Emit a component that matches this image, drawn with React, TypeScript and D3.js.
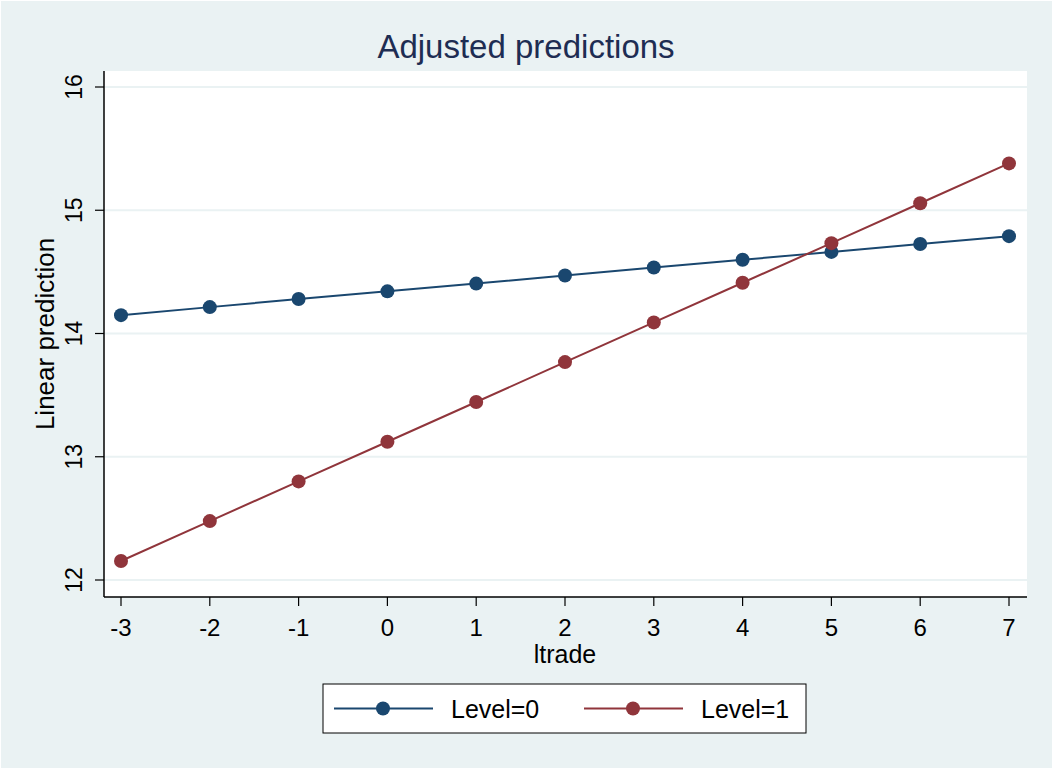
import { useMemo } from "react";
import * as d3 from "d3";

const xValues = [-3, -2, -1, 0, 1, 2, 3, 4, 5, 6, 7];
const level0 = [14.149, 14.214, 14.28, 14.342, 14.405, 14.47, 14.535, 14.598, 14.662, 14.726, 14.79];
const level1 = [12.154, 12.478, 12.8, 13.122, 13.444, 13.768, 14.09, 14.412, 14.733, 15.057, 15.38];
const yTickValues = [12, 13, 14, 15, 16];
const seriesNames = ["Level=0", "Level=1"];
const seriesColors = ["#1a476f", "#90353b"];

const WIDTH = 1053;
const HEIGHT = 769;
const FONT = "'Liberation Sans', Arial, sans-serif";

export default function App() {
  const plot = { left: 104, right: 1027, top: 71, bottom: 597 };

  const xScale = useMemo(
    () => d3.scaleLinear().domain([-3, 7]).range([121, 1009]),
    [],
  );
  const yScale = useMemo(
    () => d3.scaleLinear().domain([12, 16]).range([580, 87]),
    [],
  );

  const series = [level0, level1].map((vals, i) => ({
    name: seriesNames[i],
    color: seriesColors[i],
    points: vals.map((v, j) => ({ x: xScale(xValues[j]), y: yScale(v) })),
  }));

  const line = d3
    .line<{ x: number; y: number }>()
    .x((d) => d.x)
    .y((d) => d.y);

  const legend = { x: 323, y: 684, w: 483, h: 49 };

  return (
    <svg
      width={WIDTH}
      height={HEIGHT}
      viewBox={`0 0 ${WIDTH} ${HEIGHT}`}
      style={{ position: "absolute", left: 0, top: 0, display: "block" }}
      fontFamily={FONT}
    >
      <rect x={0} y={0} width={WIDTH} height={HEIGHT} fill="#eaf2f3" />
      <rect x={0.5} y={0.5} width={WIDTH - 1} height={HEIGHT - 1} fill="none" stroke="#ffffff" />

      {/* title */}
      <text x={526} y={58} textAnchor="middle" fontSize={33} fill="#1e2d53">
        Adjusted predictions
      </text>

      {/* plot area */}
      <rect
        x={plot.left}
        y={plot.top}
        width={plot.right - plot.left}
        height={plot.bottom - plot.top}
        fill="#ffffff"
      />
      {yTickValues.map((t) => (
        <line
          key={`g${t}`}
          x1={plot.left}
          x2={plot.right}
          y1={yScale(t)}
          y2={yScale(t)}
          stroke="#eaf2f3"
          strokeWidth={2}
        />
      ))}

      {/* axes */}
      <line x1={plot.left} x2={plot.left} y1={plot.top} y2={plot.bottom} stroke="#000" strokeWidth={1.5} />
      <line x1={plot.left} x2={plot.right} y1={plot.bottom} y2={plot.bottom} stroke="#000" strokeWidth={1.5} />

      {yTickValues.map((t) => (
        <g key={`y${t}`}>
          <line x1={plot.left - 9} x2={plot.left} y1={yScale(t)} y2={yScale(t)} stroke="#000" strokeWidth={1.2} />
          <text
            transform={`translate(${plot.left - 22},${yScale(t)}) rotate(-90)`}
            textAnchor="middle"
            fontSize={23}
            fill="#000"
          >
            {t}
          </text>
        </g>
      ))}
      {xValues.map((t) => (
        <g key={`x${t}`}>
          <line x1={xScale(t)} x2={xScale(t)} y1={plot.bottom} y2={plot.bottom + 9} stroke="#000" strokeWidth={1.2} />
          <text x={xScale(t)} y={plot.bottom + 39} textAnchor="middle" fontSize={24} fill="#000">
            {t}
          </text>
        </g>
      ))}

      <text x={565} y={663} textAnchor="middle" fontSize={25} fill="#000">
        ltrade
      </text>
      <text
        transform={`translate(54,${(plot.top + plot.bottom) / 2}) rotate(-90)`}
        textAnchor="middle"
        fontSize={26}
        fill="#000"
      >
        Linear prediction
      </text>

      {/* series */}
      {series.map((s) => (
        <g key={s.name}>
          <path d={line(s.points) ?? ""} fill="none" stroke={s.color} strokeWidth={2} />
          {s.points.map((p, i) => (
            <circle key={i} cx={p.x} cy={p.y} r={7} fill={s.color} />
          ))}
        </g>
      ))}

      {/* legend */}
      <rect
        x={legend.x}
        y={legend.y}
        width={legend.w}
        height={legend.h}
        fill="#ffffff"
        stroke="#000"
        strokeWidth={1}
      />
      {series.map((s, i) => {
        const x0 = 334 + i * 250;
        const cy = legend.y + legend.h / 2;
        return (
          <g key={`l${s.name}`}>
            <line x1={x0} x2={x0 + 99} y1={cy} y2={cy} stroke={s.color} strokeWidth={2} />
            <circle cx={x0 + 49} cy={cy} r={7} fill={s.color} />
            <text x={x0 + 117} y={cy + 9} fontSize={25} fill="#000">
              {s.name}
            </text>
          </g>
        );
      })}
    </svg>
  );
}
